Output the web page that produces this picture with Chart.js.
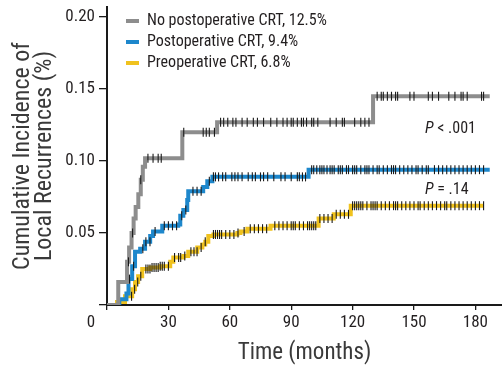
<!DOCTYPE html>
<html>
<head>
<meta charset="utf-8">
<script src="https://cdn.jsdelivr.net/npm/chart.js@4/dist/chart.umd.min.js"></script>
<style>
  html, body { margin: 0; padding: 0; background: #fff; }
  #wrap { width: 502px; height: 368px; position: relative; }
</style>
</head>
<body>
<div id="wrap"><canvas id="c" width="502" height="368"></canvas></div>
<script>
// ---------- data ----------
const seriesNames = ['No postoperative CRT, 12.5%', 'Postoperative CRT, 9.4%', 'Preoperative CRT, 6.8%'];

// No postoperative CRT (gray) step curve: times (months) and cumulative incidence
const noCrtTimes  = [0, 5.5, 9.8, 10.8, 12, 13, 14, 15.3, 16.5, 17.5, 18.6, 36.8, 53.8, 130, 187];
const noCrtValues = [0, 0.016, 0.030, 0.040, 0.050, 0.060, 0.068, 0.077, 0.087, 0.096, 0.102, 0.120, 0.127, 0.145, 0.145];

// Postoperative CRT (blue)
const postTimes  = [0, 6, 9.5, 10.5, 12.3, 13.7, 16.2, 18.6, 21.1, 22.5, 27, 34.8, 35.8, 37.3, 39.2, 39.7, 47, 49, 51.5, 98.5, 187];
const postValues = [0, 0.004, 0.008, 0.018, 0.027, 0.037, 0.039, 0.044, 0.048, 0.051, 0.055, 0.056, 0.062, 0.066, 0.073, 0.079, 0.082, 0.086, 0.089, 0.094, 0.094];

// Preoperative CRT (yellow)
const preTimes  = [0, 4.9, 8.8, 12.3, 13.7, 15.2, 17.2, 21.1, 26, 30.9, 32.4, 37.3, 39.7, 44.1, 46.6, 48, 49.5, 52, 63.7, 65.2, 68.6, 79.9, 103.4, 110.8, 119.1, 184];
const preValues = [0, 0.002, 0.006, 0.011, 0.016, 0.020, 0.025, 0.026, 0.027, 0.030, 0.033, 0.034, 0.037, 0.040, 0.042, 0.044, 0.048, 0.049, 0.050, 0.051, 0.053, 0.055, 0.060, 0.063, 0.069, 0.069];

// censoring marks (months)
const noCrtCensor = [10.5, 12.5, 16.5, 20, 22.5, 25, 26.5, 37.5, 47, 48.5, 50, 52.5, 55.5, 57, 59, 61.5, 63, 66, 68.5, 71.5, 73.5, 76.5, 80, 83, 86, 88, 90, 91, 93, 95, 96, 97.5, 100, 101, 103, 109, 112, 115, 116, 121, 124, 126, 128, 132, 134, 135, 137, 139, 141, 142, 148, 150, 157, 159, 162, 167, 170, 173, 174, 176, 183, 184];
const postCensor = [11, 13, 17.5, 19, 21, 23.5, 28, 30, 32, 34, 36.5, 38.5, 42, 44, 46, 50, 52, 53, 54.5, 56.5, 58, 61, 62.5, 64, 66, 69, 71, 72.5, 75, 76.5, 78.5, 81.5, 85, 87, 90, 93, 94, 95.5, 97, 100, 101, 102.5, 104, 105, 106, 107.5, 109, 110, 111, 113, 114, 115, 117, 118, 120, 121, 122, 124, 126, 127, 128, 130, 132, 133, 135, 137, 139, 140, 141, 143, 145, 147, 149, 151, 152, 154, 156, 157, 160, 162, 164, 166, 168, 170, 172, 174, 176, 178, 180, 182, 184];
const preCensor = [12, 13.5, 15, 16.5, 19, 20, 21, 22, 23, 24, 25, 26, 27, 28, 30, 33, 35, 36, 38, 41, 42.5, 44, 46, 48, 52, 53, 54, 55, 56, 58, 60, 62, 64, 67, 70, 72, 74, 76, 78, 82, 84, 86, 88, 90, 91, 92, 94, 96, 98, 99, 100, 101, 102, 104, 106, 108, 110, 112, 114, 116, 118, 120, 121, 122, 123, 124, 125, 127, 129, 130, 131, 132, 134, 136, 138, 140, 141, 142, 144, 146, 148, 150, 152, 153, 155, 157, 159, 161, 163, 165, 166, 168, 170, 172, 174, 176, 178, 180, 182, 184];

const xTickValues = [0, 30, 60, 90, 120, 150, 180];
const yTickValues = [0.05, 0.10, 0.15, 0.20];
const pLabels = ['< .001', '= .14'];

// ---------- helpers ----------
const toPts = (ts, vs) => ts.map((t, i) => ({x: t, y: vs[i]}));
function stepAt(ts, vs, t) {
  let v = vs[0];
  for (let i = 0; i < ts.length; i++) { if (ts[i] <= t) v = vs[i]; }
  return v;
}
const censorPts = (cs, ts, vs) => cs.map(t => ({x: t, y: stepAt(ts, vs, t)}));

const NARROW = '"Roboto Condensed", "Liberation Sans", Arial, sans-serif';
const colGray = '#8d8d8d', colBlue = '#1d87cc', colYellow = '#f0c21e';

const lineDs = (label, data, color) => ({
  label, data, borderColor: color, backgroundColor: color, borderWidth: 4,
  pointRadius: 0, stepped: 'before', fill: false, order: 2, isCurve: true
});
const censorDs = (data) => ({
  label: 'censor', data, showLine: false, pointStyle: 'line', rotation: 90,
  pointRadius: 4.5, pointBorderColor: '#1a1a1a', pointBorderWidth: 1.1,
  pointBackgroundColor: '#1a1a1a', borderColor: '#1a1a1a', order: 0, isCurve: false
});

const extras = {
  id: 'extras',
  afterLayout(chart) {
    const lg = chart.legend;
    if (lg) { lg.left = chart.chartArea.left + 14; lg.top = chart.chartArea.top + 1; }
  },
  afterDraw(chart) {
    const ctx = chart.ctx;
    const xs = chart.scales.x;
    ctx.save();
    // origin label
    ctx.fillStyle = '#231f20';
    ctx.font = '17px ' + NARROW;
    ctx.textAlign = 'center';
    ctx.textBaseline = 'middle';
    ctx.fillText(String(xTickValues[0]), xs.left - 16, 323);
    // P values
    ctx.textAlign = 'left';
    const drawP = (txt, x, y) => {
      ctx.font = 'italic 16px ' + NARROW;
      ctx.fillText('P', x, y);
      const w = ctx.measureText('P ').width;
      ctx.font = '16px ' + NARROW;
      ctx.fillText(txt, x + w, y);
    };
    drawP(pLabels[0], 425, 129);
    drawP(pLabels[1], 425, 190);
    ctx.restore();
  }
};

new Chart(document.getElementById('c'), {
  type: 'line',
  data: {
    datasets: [
      lineDs(seriesNames[0], toPts(noCrtTimes, noCrtValues), colGray),
      lineDs(seriesNames[1], toPts(postTimes, postValues), colBlue),
      lineDs(seriesNames[2], toPts(preTimes, preValues), colYellow),
      censorDs(censorPts(noCrtCensor, noCrtTimes, noCrtValues)),
      censorDs(censorPts(postCensor, postTimes, postValues)),
      censorDs(censorPts(preCensor, preTimes, preValues))
    ]
  },
  options: {
    responsive: false,
    animation: false,
    events: [],
    layout: { autoPadding: false, padding: { top: 7, right: 0, left: 0, bottom: 0 } },
    scales: {
      x: {
        type: 'linear', min: 0, max: 193,
        afterFit(s) { s.height = 63; s.paddingLeft = 0; s.paddingRight = 0; },
        afterBuildTicks(s) { s.ticks = xTickValues.map(v => ({value: v})); },
        ticks: {
          includeBounds: false, padding: 3, color: '#231f20',
          font: { family: NARROW, size: 17 },
          callback: (v) => v === 0 ? '' : String(v)
        },
        grid: { drawOnChartArea: false, drawTicks: true, tickLength: 5, color: '#1a1a1a', lineWidth: 1.3 },
        border: { display: true, color: '#1a1a1a', width: 2 },
        title: {
          display: true, text: 'Time (months)', color: '#3a3a3a',
          font: { family: NARROW, size: 23, lineHeight: 1.2 },
          padding: { top: 0, bottom: 1 }
        }
      },
      y: {
        type: 'linear', min: 0, max: 0.207,
        afterFit(s) { s.width = 107; s.paddingTop = 0; s.paddingBottom = 0; },
        afterBuildTicks(s) { s.ticks = [0].concat(yTickValues).map(v => ({value: v})); },
        ticks: {
          includeBounds: false, padding: 4, color: '#231f20',
          font: { family: NARROW, size: 17 },
          callback: (v) => v === 0 ? '' : Number(v).toFixed(2)
        },
        grid: { drawOnChartArea: false, drawTicks: true, tickLength: 8, color: '#1a1a1a', lineWidth: 1.3 },
        border: { display: true, color: '#1a1a1a', width: 2 },
        title: {
          display: true, text: ['Cumulative Incidence of', 'Local Recurrences (%)'], color: '#3a3a3a',
          font: { family: NARROW, size: 24, lineHeight: '22px' },
          padding: { top: 12, bottom: 0 }
        }
      }
    },
    plugins: {
      tooltip: { enabled: false },
      legend: {
        display: true, position: 'chartArea', align: 'start',
        labels: {
          boxWidth: 13, boxHeight: 4, padding: 5, color: '#231f20',
          font: { family: NARROW, size: 16 },
          generateLabels(chart) {
            return Chart.defaults.plugins.legend.labels.generateLabels(chart)
              .filter(l => chart.data.datasets[l.datasetIndex].isCurve)
              .map(l => Object.assign(l, { lineWidth: 0, strokeStyle: 'transparent' }));
          }
        }
      }
    }
  },
  plugins: [extras]
});
</script>
</body>
</html>
